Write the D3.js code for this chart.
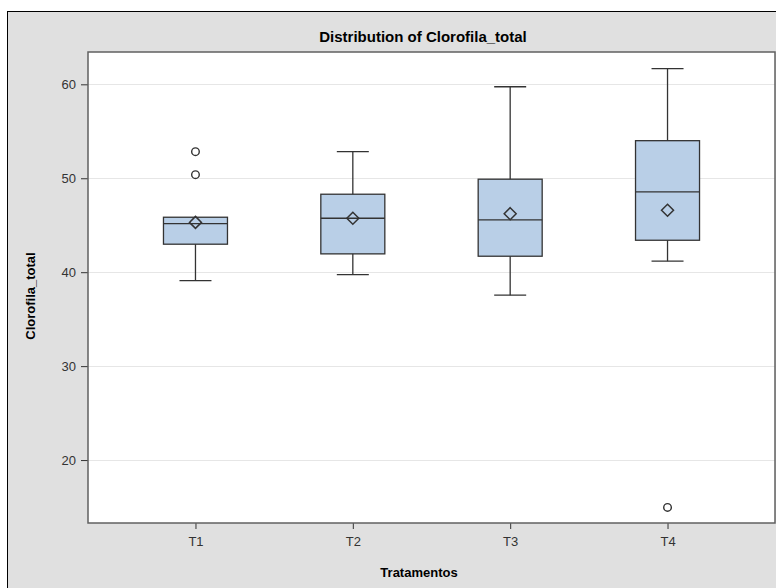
<!DOCTYPE html>
<html lang="en">
<head>
    <meta charset="UTF-8">
    <title>Distribution of Clorofila_total</title>
    <style>
        html, body {
            margin: 0;
            overflow: hidden;
            background: #ffffff;
        }
        svg {
            display: block;
        }
        svg text {
            font-family: "Liberation Sans", Arial, sans-serif;
        }
    </style>
</head>
<body>
<div id="chart"></div>

<script src="https://d3js.org/d3.v7.min.js"></script>
<script>
    // Data
    const groups = ['T1', 'T2', 'T3', 'T4'];
    const q1 = [42.98, 41.95, 41.7, 43.4];
    const median = [45.17, 45.74, 45.56, 48.54];
    const q3 = [45.85, 48.3, 49.9, 54.0];
    const whiskerLow = [39.1, 39.74, 37.55, 41.17];
    const whiskerHigh = [45.85, 52.83, 59.74, 61.66];
    const means = [45.3, 45.74, 46.23, 46.6];
    const outliers = [[52.83, 50.38], [], [], [14.96]];
    const yTicks = [20, 30, 40, 50, 60];

    const W = 776, H = 588;
    const plot = { left: 88, top: 52, right: 775, bottom: 523 };

    const svg = d3.select("#chart").append("svg")
        .attr("width", W)
        .attr("height", H);

    // outer frame
    svg.append("rect")
        .attr("x", 7.5).attr("y", 11.5)
        .attr("width", W).attr("height", H)
        .attr("fill", "#e0e0e0")
        .attr("stroke", "#000")
        .attr("stroke-width", 1);

    const x = d3.scalePoint()
        .domain(groups)
        .range([plot.left, plot.right])
        .padding(0.683);

    const y = d3.scaleLinear()
        .domain([13.3, 63.44])
        .range([plot.bottom, plot.top]);

    // plot background
    svg.append("rect")
        .attr("x", plot.left).attr("y", plot.top)
        .attr("width", plot.right - plot.left)
        .attr("height", plot.bottom - plot.top)
        .attr("fill", "#fff");

    // gridlines
    svg.append("g")
        .selectAll("line")
        .data(yTicks)
        .join("line")
        .attr("x1", plot.left).attr("x2", plot.right)
        .attr("y1", d => Math.round(y(d)) + 0.5)
        .attr("y2", d => Math.round(y(d)) + 0.5)
        .attr("stroke", "#e6e6e6");

    // axes
    const yAxis = svg.append("g")
        .attr("transform", `translate(${plot.left},0)`)
        .call(d3.axisLeft(y).tickValues(yTicks).tickSize(7).tickPadding(5));

    const xAxis = svg.append("g")
        .attr("transform", `translate(0,${plot.bottom})`)
        .call(d3.axisBottom(x).tickSize(6).tickPadding(8));

    [yAxis, xAxis].forEach(a => {
        a.select(".domain").remove();
        a.selectAll("line").attr("stroke", "#333");
        a.selectAll("text")
            .attr("fill", "#333")
            .style("font-size", "13px");
    });

    // plot border
    svg.append("rect")
        .attr("x", plot.left).attr("y", plot.top)
        .attr("width", plot.right - plot.left)
        .attr("height", plot.bottom - plot.top)
        .attr("fill", "none")
        .attr("stroke", "#606060")
        .attr("stroke-width", 1.5);

    const boxW = 64, capW = 32;
    const boxes = svg.append("g")
        .selectAll("g")
        .data(groups)
        .join("g");

    // whiskers
    boxes.append("line")
        .attr("x1", d => x(d)).attr("x2", d => x(d))
        .attr("y1", (d, i) => y(whiskerLow[i]))
        .attr("y2", (d, i) => y(whiskerHigh[i]))
        .attr("stroke", "#333").attr("stroke-width", 1.3);

    [whiskerLow, whiskerHigh].forEach(arr => {
        boxes.filter((d, i) => arr[i] !== q3[i] && arr[i] !== q1[i])
            .append("line")
            .attr("x1", d => x(d) - capW / 2).attr("x2", d => x(d) + capW / 2)
            .attr("y1", d => y(arr[groups.indexOf(d)]))
            .attr("y2", d => y(arr[groups.indexOf(d)]))
            .attr("stroke", "#333").attr("stroke-width", 1.3);
    });

    // boxes
    boxes.append("rect")
        .attr("x", d => x(d) - boxW / 2)
        .attr("y", (d, i) => y(q3[i]))
        .attr("width", boxW)
        .attr("height", (d, i) => y(q1[i]) - y(q3[i]))
        .attr("fill", "#b9cfe7")
        .attr("stroke", "#333").attr("stroke-width", 1.3);

    // medians
    boxes.append("line")
        .attr("x1", d => x(d) - boxW / 2).attr("x2", d => x(d) + boxW / 2)
        .attr("y1", (d, i) => y(median[i]))
        .attr("y2", (d, i) => y(median[i]))
        .attr("stroke", "#333").attr("stroke-width", 1.3);

    // mean diamonds
    boxes.append("path")
        .attr("d", (d, i) => {
            const cx = x(d), cy = y(means[i]), r = 6;
            return `M${cx},${cy - r}L${cx + r},${cy}L${cx},${cy + r}L${cx - r},${cy}Z`;
        })
        .attr("fill", "none")
        .attr("stroke", "#333").attr("stroke-width", 1.5);

    // outliers
    boxes.each(function (d, i) {
        d3.select(this).selectAll("circle")
            .data(outliers[i])
            .join("circle")
            .attr("cx", x(d))
            .attr("cy", v => y(v))
            .attr("r", 3.8)
            .attr("fill", "none")
            .attr("stroke", "#333").attr("stroke-width", 1.4);
    });

    // title and axis labels
    svg.append("text")
        .attr("x", 423)
        .attr("y", 42)
        .attr("text-anchor", "middle")
        .style("font-size", "15px")
        .style("font-weight", "bold")
        .attr("fill", "#000")
        .text("Distribution of Clorofila_total");

    svg.append("text")
        .attr("x", 419)
        .attr("y", 577)
        .attr("text-anchor", "middle")
        .style("font-size", "13px")
        .style("font-weight", "bold")
        .attr("fill", "#000")
        .text("Tratamentos");

    svg.append("text")
        .attr("transform", `translate(35,296) rotate(-90)`)
        .attr("text-anchor", "middle")
        .style("font-size", "13px")
        .style("font-weight", "bold")
        .attr("fill", "#000")
        .text("Clorofila_total");
</script>
</body>
</html>
